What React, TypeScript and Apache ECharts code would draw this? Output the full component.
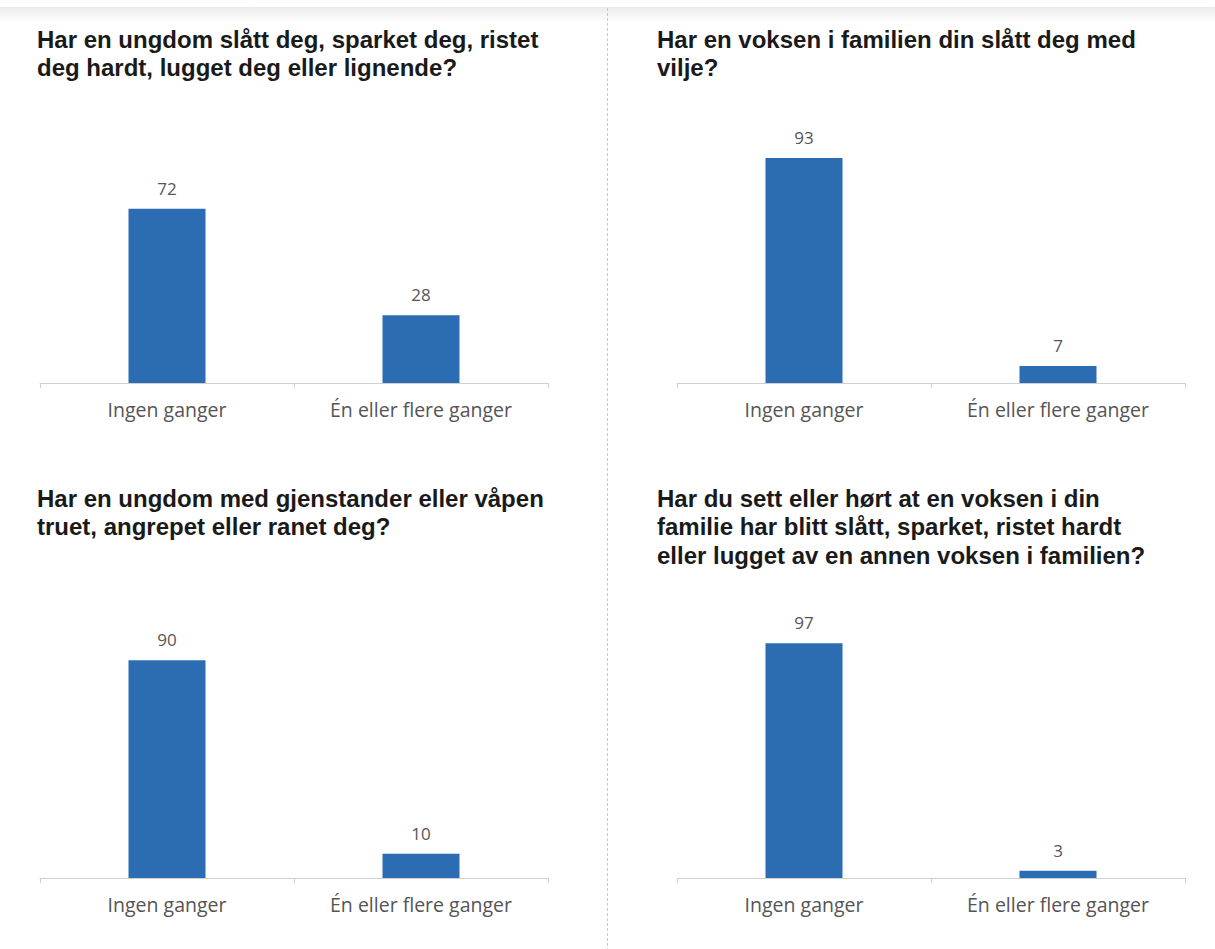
import React, { useEffect, useRef } from "react";
import * as echarts from "echarts";

const categories = ["Ingen ganger", "Én eller flere ganger"];

const titles = [
  "Har en ungdom slått deg, sparket deg, ristet\ndeg hardt, lugget deg eller lignende?",
  "Har en voksen i familien din slått deg med\nvilje?",
  "Har en ungdom med gjenstander eller våpen\ntruet, angrepet eller ranet deg?",
  "Har du sett eller hørt at en voksen i din\nfamilie har blitt slått, sparket, ristet hardt\neller lugget av en annen voksen i familien?",
];

const youthHit = [72, 28];
const adultHit = [93, 7];
const youthWeapon = [90, 10];
const witnessedViolence = [97, 3];

const panelValues = [youthHit, adultHit, youthWeapon, witnessedViolence];

const BAR = "#2b6cb3";
const W = 1215;
const H = 949;

// panel placement: [gridLeft, gridTop, titleLeft, titleTop]
const panels = [
  [40, 141, 37, 25],
  [677, 141, 657, 25],
  [40, 636, 37, 484],
  [677, 636, 657, 484],
];

export default function App() {
  const ref = useRef<HTMLDivElement>(null);

  useEffect(() => {
    if (!ref.current) return;
    const chart = echarts.init(ref.current, null, { renderer: "svg" });

    const grid = panels.map(([l, t]) => ({
      left: l,
      top: t,
      width: 508,
      height: 242,
      containLabel: false,
    }));

    const xAxis = panels.map((_, i) => ({
      type: "category" as const,
      gridIndex: i,
      data: categories,
      axisLine: { show: true, lineStyle: { color: "#cfcfcf", width: 1 } },
      axisTick: { show: true, length: 5, lineStyle: { color: "#cfcfcf" } },
      axisLabel: {
        color: "#555",
        fontSize: 19.5,
        fontFamily: "Open Sans",
        margin: 16,
      },
    }));

    const yAxis = panels.map((_, i) => ({
      type: "value" as const,
      gridIndex: i,
      min: 0,
      max: 100,
      show: false,
    }));

    const series = panelValues.map((vals, i) => ({
      type: "bar" as const,
      xAxisIndex: i,
      yAxisIndex: i,
      data: vals,
      barWidth: 77,
      itemStyle: { color: BAR },
      label: {
        show: true,
        position: "top" as const,
        distance: 12,
        color: "#555",
        fontSize: 17,
        fontFamily: "Open Sans",
      },
    }));

    const titleTexts = panels.map(([, , tl, tt], i) => ({
      type: "text" as const,
      left: tl,
      top: tt,
      style: {
        text: titles[i],
        fill: "#1a1a1a",
        font: "bold 24px 'Liberation Sans'",
        lineHeight: 28.5,
      },
    }));

    chart.setOption({
      animation: false,
      backgroundColor: "#fff",
      grid,
      xAxis,
      yAxis,
      series,
      graphic: [
        {
          type: "rect",
          shape: { x: 0, y: 7, width: W, height: 16 },
          style: {
            fill: new echarts.graphic.LinearGradient(0, 0, 0, 1, [
              { offset: 0, color: "#ececec" },
              { offset: 1, color: "#ffffff" },
            ]),
          },
          silent: true,
        },
        {
          type: "line",
          shape: { x1: 607.5, y1: 8, x2: 607.5, y2: H },
          style: { stroke: "#c8c8c8", lineWidth: 1, lineDash: [3, 2] },
          silent: true,
        },
        ...titleTexts,
      ],
    });

    return () => chart.dispose();
  }, []);

  return (
    <div
      ref={ref}
      style={{ position: "absolute", left: 0, top: 0, width: W, height: H }}
    />
  );
}
